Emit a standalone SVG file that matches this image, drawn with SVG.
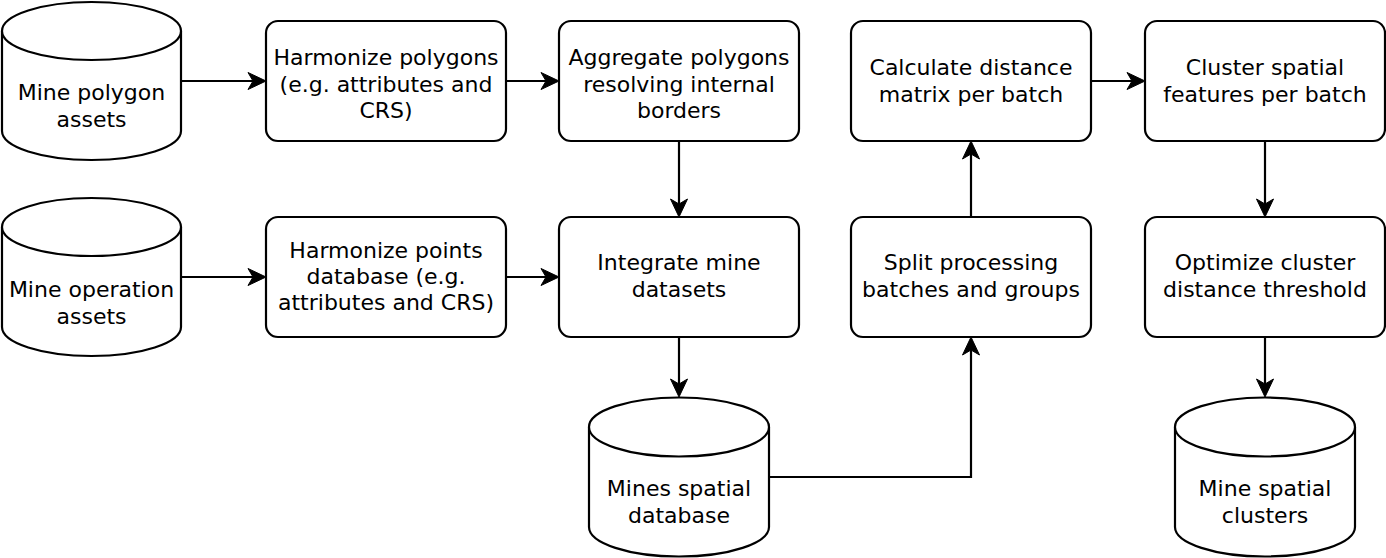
<svg xmlns="http://www.w3.org/2000/svg" width="1386" height="558" viewBox="0 0 1386 558">
<style>
.shape{fill:#fff;stroke:#000;stroke-width:2.2}
.lbl{font-family:"DejaVu Sans",sans-serif;font-size:22px;fill:#000;text-anchor:middle}
.edge{fill:none;stroke:#000;stroke-width:2.2}
</style>
<defs>
<marker id="arr" viewBox="-20 -11 22 22" refX="-13" refY="0" markerWidth="22" markerHeight="22" orient="auto" markerUnits="userSpaceOnUse">
<path d="M0,0 L-18,-8.5 L-13,0 L-18,8.5 Z" fill="#000" stroke="#000" stroke-width="1" stroke-linejoin="round"/>
</marker>
</defs>
<rect width="1386" height="558" fill="#fff"/>
<g id="cyl-polygon">
<path class="shape" d="M2,31 L2,131 A89.5,29 0 0 0 181,131 L181,31 A89.5,29 0 0 0 2,31 Z"/>
<path class="shape" fill="none" d="M2,31 A89.5,29 0 0 0 181,31"/>
<text class="lbl" x="91.5" y="100">Mine polygon</text>
<text class="lbl" x="91.5" y="127">assets</text>
</g>
<g id="cyl-operation">
<path class="shape" d="M2,227 L2,327 A89.5,29 0 0 0 181,327 L181,227 A89.5,29 0 0 0 2,227 Z"/>
<path class="shape" fill="none" d="M2,227 A89.5,29 0 0 0 181,227"/>
<text class="lbl" x="91.5" y="297">Mine operation</text>
<text class="lbl" x="91.5" y="324">assets</text>
</g>
<g id="cyl-mines-db">
<path class="shape" d="M589,427 L589,527 A90,29.5 0 0 0 769,527 L769,427 A90,29.5 0 0 0 589,427 Z"/>
<path class="shape" fill="none" d="M589,427 A90,29.5 0 0 0 769,427"/>
<text class="lbl" x="679" y="496">Mines spatial</text>
<text class="lbl" x="679" y="523">database</text>
</g>
<g id="cyl-clusters">
<path class="shape" d="M1175,427 L1175,527 A90,29.5 0 0 0 1355,527 L1355,427 A90,29.5 0 0 0 1175,427 Z"/>
<path class="shape" fill="none" d="M1175,427 A90,29.5 0 0 0 1355,427"/>
<text class="lbl" x="1265" y="496">Mine spatial</text>
<text class="lbl" x="1265" y="523">clusters</text>
</g>
<g id="harmonize-polygons">
<rect class="shape" x="266" y="21" width="240" height="120" rx="12"/>
<text class="lbl" x="386" y="65">Harmonize polygons</text>
<text class="lbl" x="386" y="91.5">(e.g. attributes and</text>
<text class="lbl" x="386" y="118">CRS)</text>
</g>
<g id="aggregate-polygons">
<rect class="shape" x="559" y="21" width="240" height="120" rx="12"/>
<text class="lbl" x="679" y="65">Aggregate polygons</text>
<text class="lbl" x="679" y="91.5">resolving internal</text>
<text class="lbl" x="679" y="118">borders</text>
</g>
<g id="calculate-distance">
<rect class="shape" x="851" y="21" width="240" height="120" rx="12"/>
<text class="lbl" x="971" y="75">Calculate distance</text>
<text class="lbl" x="971" y="102">matrix per batch</text>
</g>
<g id="cluster-features">
<rect class="shape" x="1145" y="21" width="240" height="120" rx="12"/>
<text class="lbl" x="1265" y="75">Cluster spatial</text>
<text class="lbl" x="1265" y="102">features per batch</text>
</g>
<g id="harmonize-points">
<rect class="shape" x="266" y="217" width="240" height="120" rx="12"/>
<text class="lbl" x="386" y="258">Harmonize points</text>
<text class="lbl" x="386" y="284">database (e.g.</text>
<text class="lbl" x="386" y="310">attributes and CRS)</text>
</g>
<g id="integrate-datasets">
<rect class="shape" x="559" y="217" width="240" height="120" rx="12"/>
<text class="lbl" x="679" y="270">Integrate mine</text>
<text class="lbl" x="679" y="297">datasets</text>
</g>
<g id="split-batches">
<rect class="shape" x="851" y="217" width="240" height="120" rx="12"/>
<text class="lbl" x="971" y="270">Split processing</text>
<text class="lbl" x="971" y="297">batches and groups</text>
</g>
<g id="optimize-threshold">
<rect class="shape" x="1145" y="217" width="240" height="120" rx="12"/>
<text class="lbl" x="1265" y="270">Optimize cluster</text>
<text class="lbl" x="1265" y="297">distance threshold</text>
</g>
<g id="connectors" class="edge" marker-end="url(#arr)">
<path d="M181,81 H253"/>
<path d="M506,81 H546"/>
<path d="M679,141 V204"/>
<path d="M181,277 H253"/>
<path d="M506,277 H546"/>
<path d="M679,337 V384"/>
<path d="M769,477 H971 V350"/>
<path d="M971,217 V154"/>
<path d="M1091,81 H1132"/>
<path d="M1265,141 V204"/>
<path d="M1265,337 V384"/>
</g>
</svg>
